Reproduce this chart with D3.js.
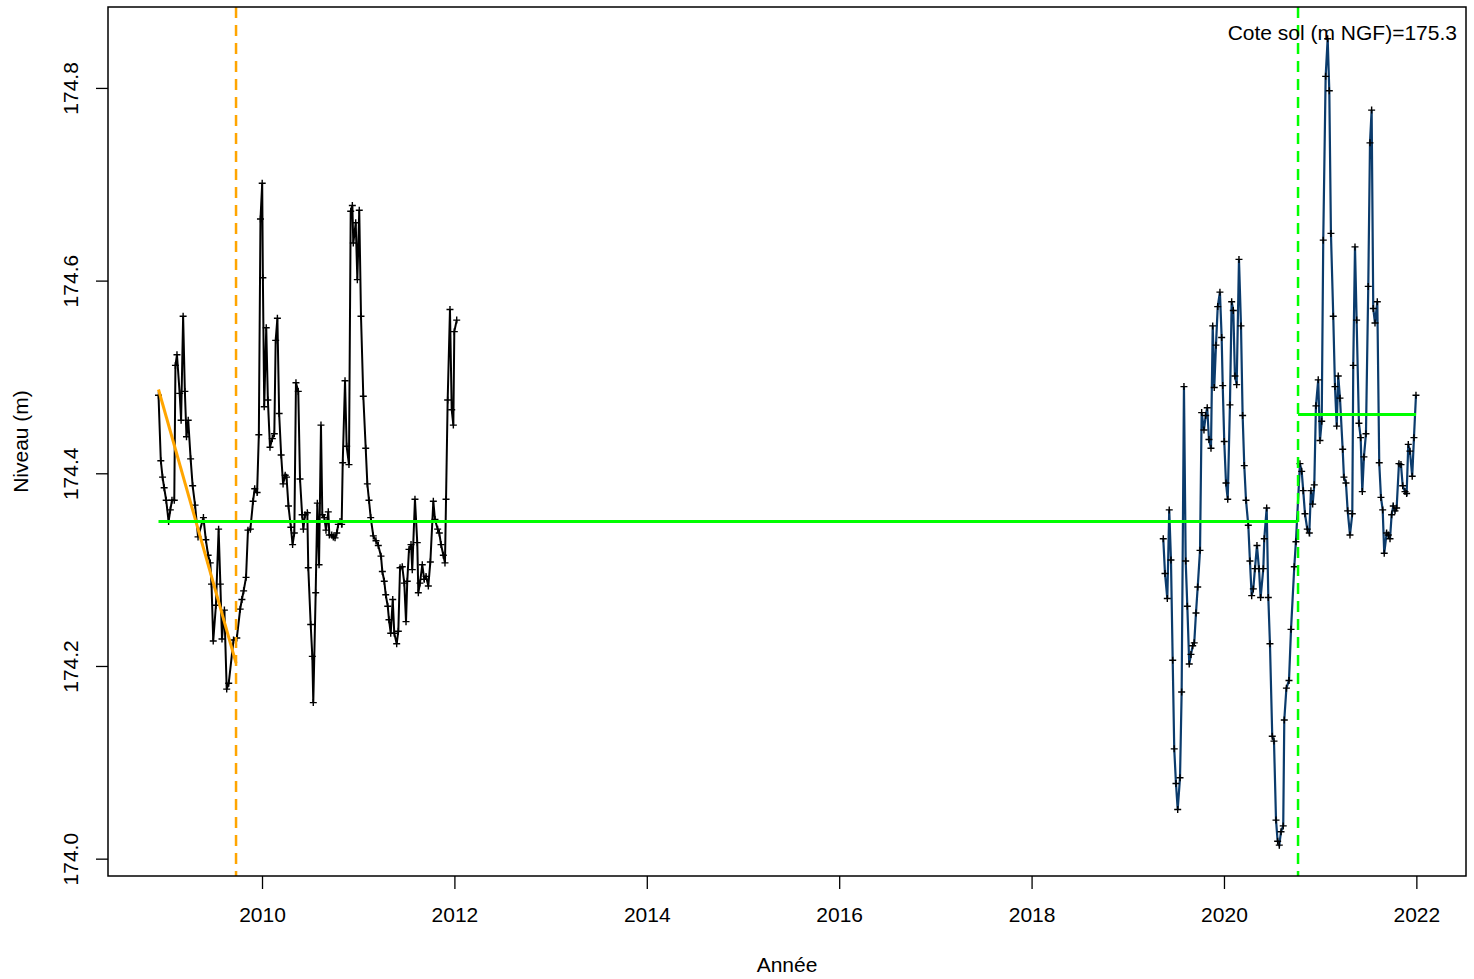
<!DOCTYPE html>
<html>
<head>
<meta charset="utf-8">
<script src="https://d3js.org/d3.v7.min.js"></script>
<style>
  body { margin: 0; background: #fff; }
  svg text { font-family: "Liberation Sans", Arial, sans-serif; fill: #000; }
</style>
</head>
<body>
<div id="container"></div>
<script>
// measurements, first period (black)
var dates1 = [2008.924,2008.948,2008.966,2008.983,2009.004,2009.029,2009.047,2009.064,2009.088,2009.100,
  2009.116,2009.144,2009.159,2009.180,2009.198,2009.215,2009.233,2009.258,2009.279,2009.304,
  2009.335,2009.391,2009.416,2009.440,2009.462,2009.475,2009.493,2009.521,2009.549,2009.567,
  2009.584,2009.609,2009.633,2009.654,2009.704,2009.738,2009.773,2009.791,2009.809,2009.834,
  2009.854,2009.879,2009.907,2009.924,2009.949,2009.967,2009.984,2010.002,2010.009,2010.023,
  2010.044,2010.061,2010.083,2010.107,2010.128,2010.142,2010.160,2010.178,2010.199,2010.219,
  2010.241,2010.255,2010.275,2010.300,2010.318,2010.336,2010.353,2010.377,2010.395,2010.417,
  2010.430,2010.447,2010.471,2010.481,2010.506,2010.523,2010.533,2010.558,2010.575,2010.593,
  2010.613,2010.627,2010.648,2010.665,2010.689,2010.700,2010.725,2010.741,2010.759,2010.777,
  2010.793,2010.811,2010.828,2010.839,2010.863,2010.880,2010.904,2010.922,2010.939,2010.949,
  2010.974,2010.991,2011.011,2011.029,2011.053,2011.078,2011.095,2011.112,2011.130,2011.157,
  2011.185,2011.209,2011.237,2011.251,2011.271,2011.286,2011.307,2011.320,2011.338,2011.359,
  2011.375,2011.400,2011.417,2011.435,2011.458,2011.479,2011.497,2011.510,2011.528,2011.549,
  2011.562,2011.590,2011.614,2011.625,2011.642,2011.666,2011.687,2011.705,2011.729,2011.750,
  2011.781,2011.798,2011.826,2011.843,2011.861,2011.885,2011.902,2011.913,2011.930,2011.954,
  2011.972,2011.989,2011.999,2012.024];
var level1 = [174.481,174.413,174.396,174.385,174.372,174.350,174.362,174.372,174.372,174.512,
  174.523,174.483,174.455,174.563,174.485,174.438,174.455,174.415,174.387,174.367,
  174.334,174.354,174.331,174.315,174.307,174.285,174.226,174.263,174.342,174.285,
  174.228,174.258,174.176,174.182,174.227,174.229,174.259,174.269,174.278,174.292,
  174.341,174.342,174.371,174.384,174.380,174.440,174.664,174.701,174.603,174.469,
  174.551,174.476,174.427,174.436,174.441,174.538,174.561,174.462,174.419,174.389,
  174.398,174.396,174.366,174.344,174.326,174.338,174.494,174.485,174.394,174.357,
  174.342,174.357,174.359,174.302,174.243,174.210,174.162,174.276,174.369,174.305,
  174.450,174.357,174.354,174.341,174.360,174.336,174.336,174.334,174.333,174.338,
  174.347,174.350,174.347,174.411,174.496,174.428,174.409,174.672,174.678,174.639,
  174.660,174.601,174.673,174.563,174.480,174.426,174.389,174.372,174.354,174.335,
  174.330,174.325,174.314,174.298,174.288,174.274,174.262,174.248,174.234,174.269,
  174.234,174.223,174.236,174.302,174.303,174.286,174.246,174.288,174.321,174.326,
  174.300,174.373,174.328,174.276,174.286,174.305,174.290,174.293,174.283,174.308,
  174.371,174.352,174.342,174.338,174.326,174.315,174.307,174.373,174.476,174.570,
  174.466,174.450,174.547,174.559];

// measurements, second period (blue)
var dates2 = [2019.369,2019.387,2019.411,2019.431,2019.449,2019.467,2019.483,2019.501,2019.519,2019.543,
  2019.560,2019.584,2019.602,2019.619,2019.639,2019.657,2019.675,2019.691,2019.709,2019.727,
  2019.751,2019.768,2019.792,2019.810,2019.826,2019.844,2019.865,2019.883,2019.899,2019.917,
  2019.935,2019.958,2019.976,2019.987,2020.003,2020.021,2020.039,2020.062,2020.080,2020.097,
  2020.114,2020.132,2020.156,2020.177,2020.194,2020.211,2020.229,2020.253,2020.270,2020.288,
  2020.305,2020.322,2020.343,2020.364,2020.381,2020.409,2020.419,2020.444,2020.461,2020.478,
  2020.502,2020.520,2020.541,2020.558,2020.575,2020.593,2020.616,2020.627,2020.649,2020.676,
  2020.697,2020.731,2020.748,2020.790,2020.808,2020.824,2020.842,2020.866,2020.887,2020.904,
  2020.922,2020.939,2020.956,2020.980,2020.998,2021.016,2021.032,2021.057,2021.078,2021.095,
  2021.112,2021.136,2021.154,2021.172,2021.188,2021.206,2021.234,2021.247,2021.268,2021.286,
  2021.310,2021.334,2021.344,2021.362,2021.379,2021.403,2021.421,2021.438,2021.455,2021.476,
  2021.500,2021.518,2021.535,2021.552,2021.570,2021.594,2021.614,2021.632,2021.650,2021.666,
  2021.691,2021.708,2021.726,2021.743,2021.760,2021.778,2021.795,2021.819,2021.840,2021.858,
  2021.882,2021.899,2021.916,2021.933,2021.957,2021.975,2021.996];
var level2 = [174.332,174.296,174.270,174.362,174.310,174.206,174.114,174.078,174.051,174.084,
  174.173,174.490,174.309,174.262,174.202,174.212,174.221,174.224,174.255,174.282,
  174.320,174.463,174.445,174.460,174.468,174.435,174.426,174.553,174.489,174.533,
  174.573,174.588,174.541,174.491,174.433,174.390,174.373,174.471,174.578,174.569,
  174.501,174.492,174.622,174.553,174.460,174.408,174.372,174.346,174.309,174.273,
  174.280,174.301,174.325,174.301,174.271,174.301,174.332,174.364,174.271,174.223,
  174.127,174.122,174.040,174.018,174.014,174.028,174.034,174.144,174.177,174.185,
  174.238,174.303,174.329,174.410,174.402,174.382,174.358,174.342,174.338,174.382,
  174.368,174.388,174.470,174.497,174.434,174.454,174.642,174.812,174.851,174.797,
  174.649,174.563,174.490,174.449,174.501,174.478,174.425,174.396,174.390,174.361,
  174.336,174.358,174.512,174.635,174.559,174.452,174.437,174.381,174.417,174.441,
  174.594,174.743,174.777,174.571,174.556,174.578,174.411,174.375,174.362,174.317,
  174.338,174.336,174.332,174.357,174.366,174.361,174.364,174.410,174.409,174.387,
  174.381,174.379,174.430,174.423,174.397,174.437,174.481];

var xTicks = [2010, 2012, 2014, 2016, 2018, 2020, 2022];
var yTicks = [174.0, 174.2, 174.4, 174.6, 174.8];

// break analysis
var trendYears = [2008.924, 2009.73];
var trendLevels = [174.487, 174.203];
var trendBreak = 2009.73;
var meanYears1 = [2008.924, 2020.77];
var meanLevel1 = 174.350;
var meanYears2 = [2020.77, 2021.996];
var meanLevel2 = 174.461;
var meanBreak = 2020.77;
var coteSol = "Cote sol (m NGF)=175.3";

var width = 1474, height = 979;
var margin = {top: 7, right: 8, bottom: 103, left: 108};

var svg = d3.select("#container").append("svg")
  .attr("width", width)
  .attr("height", height);

var x = d3.scaleLinear()
  .domain([2008.399, 2022.516])
  .range([margin.left, width - margin.right]);
var y = d3.scaleLinear()
  .domain([173.982, 174.884])
  .range([height - margin.bottom, margin.top]);

svg.append("clipPath").attr("id", "plotclip")
  .append("rect")
  .attr("x", margin.left).attr("y", margin.top)
  .attr("width", width - margin.left - margin.right)
  .attr("height", height - margin.top - margin.bottom);

var plot = svg.append("g").attr("clip-path", "url(#plotclip)");

var line = d3.line()
  .x(function(d) { return x(d[0]); })
  .y(function(d) { return y(d[1]); });

var pts1 = dates1.map(function(d, i) { return [d, level1[i]]; });
var pts2 = dates2.map(function(d, i) { return [d, level2[i]]; });

plot.append("path").datum(pts1)
  .attr("d", line)
  .attr("fill", "none")
  .attr("stroke", "#000")
  .attr("stroke-width", 2);

plot.append("path").datum(pts2)
  .attr("d", line)
  .attr("fill", "none")
  .attr("stroke", "#0b3b6c")
  .attr("stroke-width", 2.2);

// "+" markers
var plus = "M-3.5,0H3.5M0,-3.5V3.5";
plot.selectAll(".pt").data(pts1.concat(pts2))
  .enter().append("path")
  .attr("class", "pt")
  .attr("transform", function(d) { return "translate(" + x(d[0]) + "," + y(d[1]) + ")"; })
  .attr("d", plus)
  .attr("stroke", "#000")
  .attr("stroke-width", 1.4);

// trend before first break
plot.append("line")
  .attr("x1", x(trendYears[0])).attr("y1", y(trendLevels[0]))
  .attr("x2", x(trendYears[1])).attr("y2", y(trendLevels[1]))
  .attr("stroke", "#ffa500").attr("stroke-width", 3);

plot.append("line")
  .attr("x1", x(trendBreak)).attr("x2", x(trendBreak))
  .attr("y1", margin.top).attr("y2", height - margin.bottom)
  .attr("stroke", "#ffa500").attr("stroke-width", 2.5)
  .attr("stroke-dasharray", "11,7");

// means around the second break
plot.append("line")
  .attr("x1", x(meanYears1[0])).attr("x2", x(meanYears1[1]))
  .attr("y1", y(meanLevel1)).attr("y2", y(meanLevel1))
  .attr("stroke", "#00ff00").attr("stroke-width", 3);
plot.append("line")
  .attr("x1", x(meanYears2[0])).attr("x2", x(meanYears2[1]))
  .attr("y1", y(meanLevel2)).attr("y2", y(meanLevel2))
  .attr("stroke", "#00ff00").attr("stroke-width", 3);
plot.append("line")
  .attr("x1", x(meanBreak)).attr("x2", x(meanBreak))
  .attr("y1", margin.top).attr("y2", height - margin.bottom)
  .attr("stroke", "#00ff00").attr("stroke-width", 2.5)
  .attr("stroke-dasharray", "11,7");

// axes
var xAxis = svg.append("g")
  .attr("transform", "translate(0," + (height - margin.bottom) + ")")
  .call(d3.axisBottom(x).tickValues(xTicks).tickFormat(d3.format("d")).tickSize(13).tickPadding(18));
xAxis.select(".domain").remove();
xAxis.selectAll("line").attr("stroke", "#000").attr("stroke-width", 1.3);
xAxis.selectAll("text")
  .attr("font-size", 21)
  .attr("font-family", "Liberation Sans, Arial, sans-serif");

var yAxis = svg.append("g")
  .attr("transform", "translate(" + margin.left + ",0)")
  .call(d3.axisLeft(y).tickValues(yTicks).tickFormat(d3.format(".1f")).tickSize(12));
yAxis.select(".domain").remove();
yAxis.selectAll("line").attr("stroke", "#000").attr("stroke-width", 1.3);
yAxis.selectAll("text")
  .attr("font-size", 21)
  .attr("font-family", "Liberation Sans, Arial, sans-serif")
  .attr("text-anchor", "middle")
  .attr("dy", null)
  .attr("x", 0)
  .attr("transform", "translate(-30,0) rotate(-90)");

// box
svg.append("rect")
  .attr("x", margin.left).attr("y", margin.top)
  .attr("width", width - margin.left - margin.right)
  .attr("height", height - margin.top - margin.bottom)
  .attr("fill", "none")
  .attr("stroke", "#000")
  .attr("stroke-width", 1.5);

// labels
svg.append("text")
  .attr("x", (margin.left + width - margin.right) / 2)
  .attr("y", 972)
  .attr("text-anchor", "middle")
  .attr("font-size", 21)
  .text("Année");

svg.append("text")
  .attr("transform", "translate(28," + ((margin.top + height - margin.bottom) / 2) + ") rotate(-90)")
  .attr("text-anchor", "middle")
  .attr("font-size", 21)
  .text("Niveau (m)");

svg.append("text")
  .attr("x", 1457)
  .attr("y", 40)
  .attr("text-anchor", "end")
  .attr("font-size", 21)
  .text(coteSol);
</script>
</body>
</html>
